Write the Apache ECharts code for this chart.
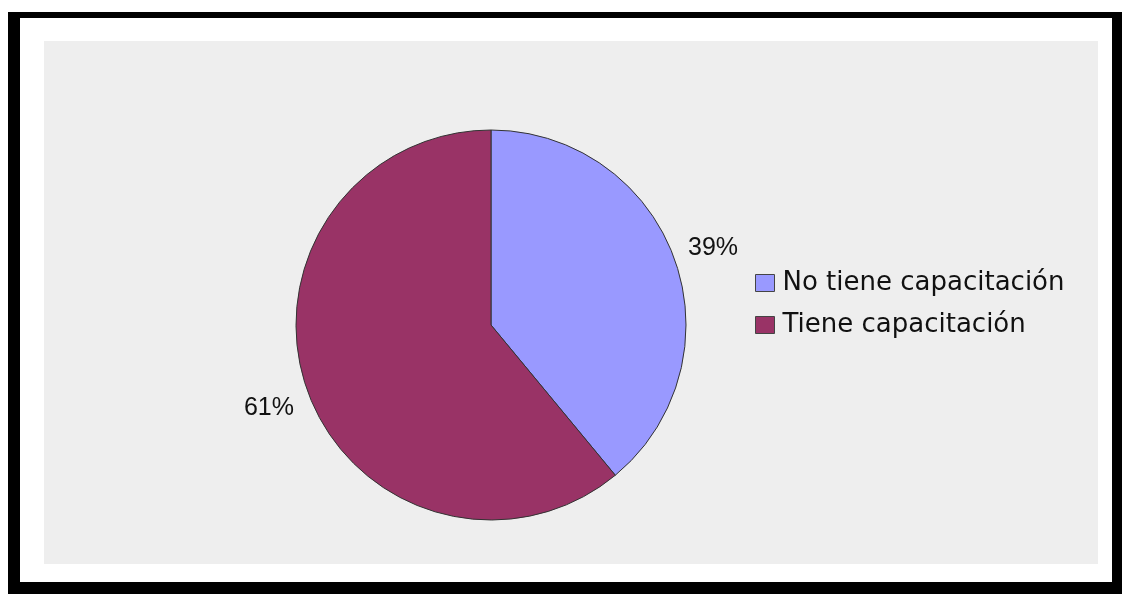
<!DOCTYPE html>
<html>
<head>
<meta charset="utf-8">
<script src="https://cdn.jsdelivr.net/npm/echarts@6/dist/echarts.min.js"></script>
<style>
  html, body { margin: 0; padding: 0; background: #fff; }
  #chart { width: 1122px; height: 594px; }
</style>
</head>
<body>
<div id="chart"></div>
<script>
var categories = ['No tiene capacitación', 'Tiene capacitación'];
var values = [39, 61];
var colors = ['#9999ff', '#993366'];

var chart = echarts.init(document.getElementById('chart'));

var pieData = [];
var labelData = [];
for (var i = 0; i < categories.length; i++) {
    pieData.push({ name: categories[i], value: values[i], itemStyle: { color: colors[i] } });
    labelData.push({ name: categories[i], value: values[i] });
}

var option = {
    backgroundColor: '#fff',
    animation: false,
    graphic: [
        // marco negro, fondo blanco y zona gris
        { type: 'rect', shape: { x: 8, y: 12, width: 1114, height: 582 }, style: { fill: '#000' }, z: -10 },
        { type: 'rect', shape: { x: 20, y: 18, width: 1092, height: 564 }, style: { fill: '#fff', shadowBlur: 4, shadowColor: 'rgba(0,0,0,0.4)' }, z: -9 },
        { type: 'rect', shape: { x: 44, y: 41, width: 1054, height: 523 }, style: { fill: '#eeeeee' }, z: -8 }
    ],
    legend: {
        orient: 'vertical',
        left: 750,
        top: 265,
        itemWidth: 19,
        itemHeight: 17,
        itemGap: 16,
        icon: 'rect',
        itemStyle: { borderColor: '#444', borderWidth: 1 },
        textStyle: { fontFamily: 'DejaVu Sans', fontSize: 26, color: '#111', padding: [0, 0, 0, 3] },
        data: categories
    },
    series: [{
        type: 'pie',
        center: [491, 325],
        radius: [0, 195],
        startAngle: 90,
        clockwise: true,
        itemStyle: { borderColor: '#333', borderWidth: 1 },
        label: { show: false },
        labelLine: { show: false },
        emphasis: { disabled: true },
        data: pieData
    }, {
        // anillo invisible solo para colocar las etiquetas de porcentaje
        type: 'pie',
        center: [491, 328],
        radius: [231, 235],
        startAngle: 90,
        clockwise: true,
        silent: true,
        itemStyle: { color: 'rgba(0,0,0,0)' },
        label: {
            show: true,
            position: 'inside',
            formatter: '{c}%',
            fontFamily: 'Liberation Sans',
            fontSize: 25,
            color: '#111'
        },
        labelLine: { show: false },
        emphasis: { disabled: true },
        data: labelData
    }]
};
chart.setOption(option);
</script>
</body>
</html>
